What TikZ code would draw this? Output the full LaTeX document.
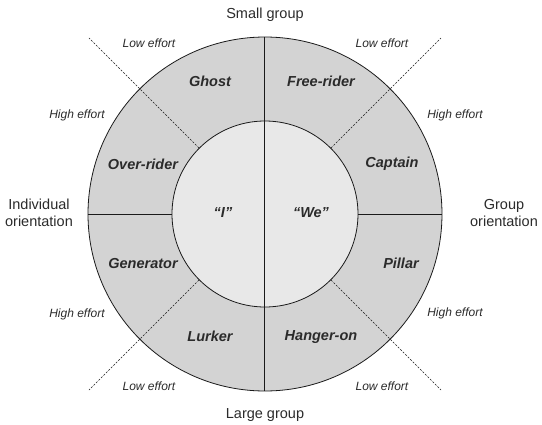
\documentclass[tikz,border=0pt]{standalone}
\usepackage{fontspec}
\setmainfont{Liberation Sans}
\usetikzlibrary{positioning}
\usepackage{xcolor}
\definecolor{RingGray}{HTML}{D3D3D3}
\definecolor{CoreGray}{HTML}{E8E8E8}
\definecolor{LineBlack}{HTML}{1A1A1A}
\definecolor{TextGray}{HTML}{2B2B2B}
\tikzset{
    % Circle styles
    ring/.style={
        circle,
        draw=LineBlack,
        fill=RingGray,
        line width=0.8pt,
        minimum size=354pt,
        inner sep=0pt
    },
    core/.style={
        circle,
        draw=LineBlack,
        fill=CoreGray,
        line width=0.8pt,
        minimum size=186pt,
        inner sep=0pt
    },
    % Text styles
    role/.style={
        font=\fontsize{14.5}{16}\selectfont\bfseries\itshape,
        text=TextGray,
        inner sep=0pt
    },
    effort/.style={
        font=\fontsize{12}{14}\selectfont\itshape,
        text=TextGray,
        inner sep=0pt
    },
    axis/.style={
        font=\fontsize{14.5}{17.5}\selectfont,
        text=TextGray,
        align=center,
        inner sep=0pt
    },
    % Line styles
    divider/.style={
        line width=1pt,
        draw=LineBlack
    },
    boundary/.style={
        line width=0.6pt,
        draw=LineBlack,
        dash pattern=on 2pt off 1.5pt
    }
}

\begin{document}
\begin{tikzpicture}[x=1pt, y=1pt]
    \useasboundingbox (-265,-210) rectangle (277,214);

    \node[ring] (outer) at (0,0) {};
    \node[core] (inner) at (0,0) {};

    \draw[divider] (outer.north) -- (outer.south);
    \draw[divider] (outer.west) -- (inner.west);
    \draw[divider] (inner.east) -- (outer.east);

    \coordinate (nw) at (-176,176);
    \coordinate (ne) at (176,176);
    \coordinate (sw) at (-176,-176);
    \coordinate (se) at (176,-176);
    \draw[boundary] (inner.north west) -- (nw);
    \draw[boundary] (inner.north east) -- (ne);
    \draw[boundary] (inner.south west) -- (sw);
    \draw[boundary] (inner.south east) -- (se);

    \node[role] (ghost) at (-55,133) {Ghost};
    \node[role] (freerider) at (56,133) {Free-rider};
    \node[role] (overrider) at (-122,50) {Over-rider};
    \node[role] (captain) at (127,50) {Captain};
    \node[role] (generator) at (-122,-50) {Generator};
    \node[role] (pillar) at (136,-49) {Pillar};
    \node[role] (lurker) at (-55,-122) {Lurker};
    \node[role] (hangeron) at (56,-123) {Hanger-on};
    \node[role] (self) at (-42,1) {“I”};
    \node[role] (we) at (46,1) {“We”};

    \node[axis] (small) at (0,199) {Small group};
    \node[axis] (large) at (0,-201) {Large group};
    \node[axis] (individual) at (-226,1) {Individual\\orientation};
    \node[axis] (group) at (239,1) {Group\\orientation};

    \node[effort] (lowNW) at (-116,171) {Low effort};
    \node[effort] (lowNE) at (117,171) {Low effort};
    \node[effort] (lowSW) at (-116,-172) {Low effort};
    \node[effort] (lowSE) at (117,-172) {Low effort};
    \node[effort] (highNW) at (-188,99) {High effort};
    \node[effort] (highNE) at (190,99) {High effort};
    \node[effort] (highSW) at (-188,-100) {High effort};
    \node[effort] (highSE) at (190,-99) {High effort};
\end{tikzpicture}
\end{document}
